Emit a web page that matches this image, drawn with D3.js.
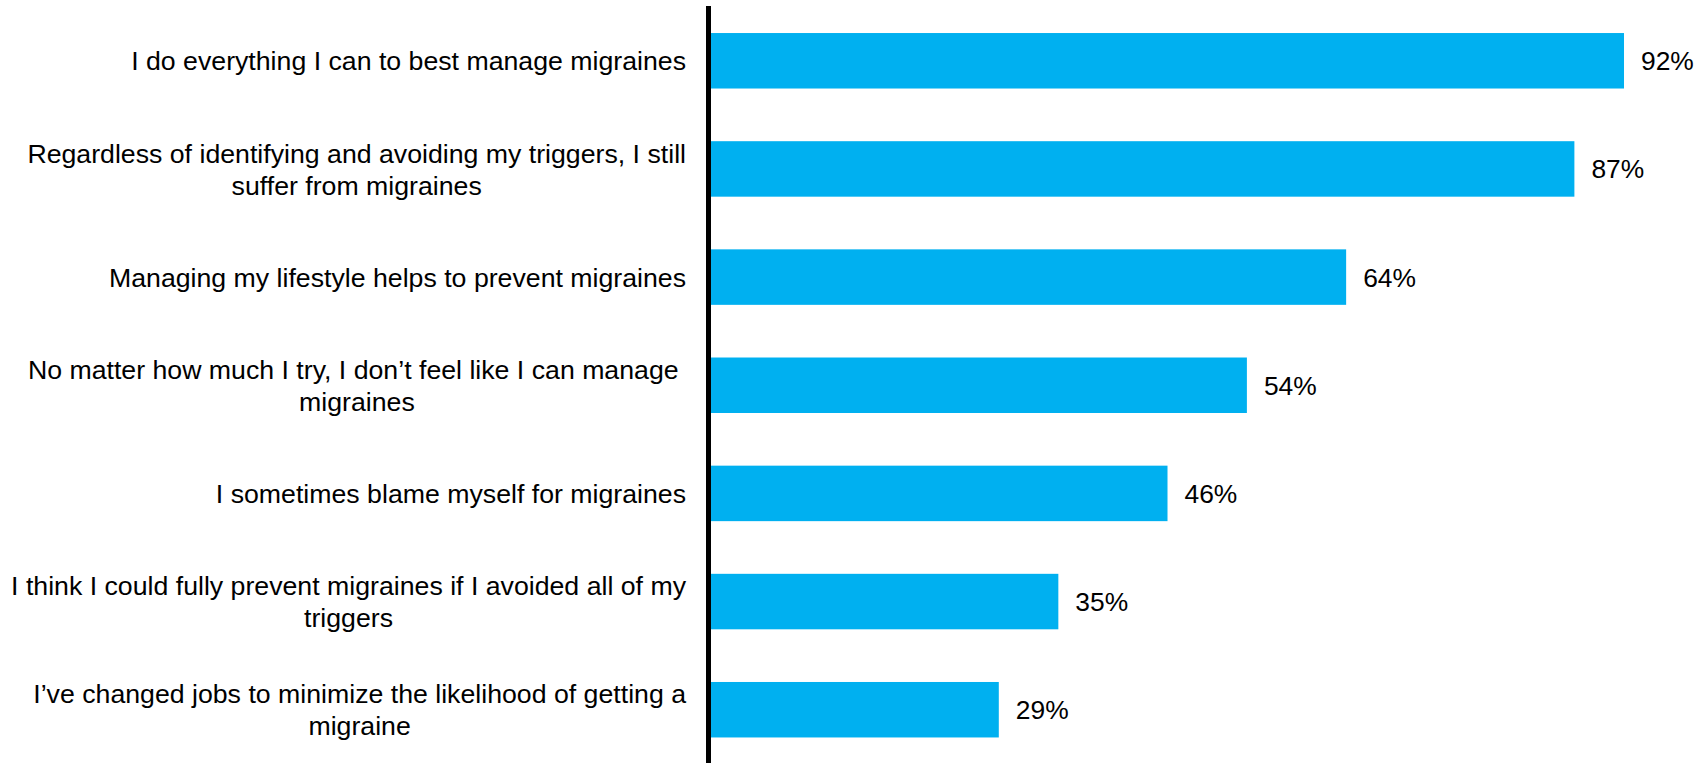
<!DOCTYPE html>
<html>
<head>
<meta charset="utf-8">
<script src="https://cdn.jsdelivr.net/npm/d3@7"></script>
<style>
  html, body { margin: 0; padding: 0; background: #fff; }
  svg { display: block; }
</style>
</head>
<body>
<svg id="chart" width="1707" height="763"></svg>
<script>
const categories = [
  "I do everything I can to best manage migraines",
  "Regardless of identifying and avoiding my triggers, I still\nsuffer from migraines",
  "Managing my lifestyle helps to prevent migraines",
  "No matter how much I try, I don\u2019t feel like I can manage \nmigraines",
  "I sometimes blame myself for migraines",
  "I think I could fully prevent migraines if I avoided all of my\ntriggers",
  "I\u2019ve changed jobs to minimize the likelihood of getting a\nmigraine"
];
const values = [92, 87, 64, 54, 46, 35, 29];
const valueLabels = ["92%", "87%", "64%", "54%", "46%", "35%", "29%"];

const svg = d3.select("#chart");
const font = "'Liberation Sans', Arial, sans-serif";
const labelSize = 26.7;
const valueSize = 26.4;

const x = d3.scaleLinear().domain([0, 100]).range([711, 711 + 992.4]);
const y = d3.scaleBand().domain(categories).range([6.7, 763.8])
  .paddingInner(0.487).paddingOuter(0.2435);

// bars
svg.selectAll("rect.bar").data(categories).enter().append("rect")
  .attr("class", "bar")
  .attr("x", x(0))
  .attr("y", d => y(d))
  .attr("width", (d, i) => x(values[i]) - x(0))
  .attr("height", y.bandwidth())
  .attr("fill", "#00B0F0");

// value labels
svg.selectAll("text.val").data(categories).enter().append("text")
  .attr("class", "val")
  .attr("x", (d, i) => x(values[i]) + 17)
  .attr("y", d => y(d) + y.bandwidth() / 2)
  .attr("dy", "0.36em")
  .attr("font-family", font)
  .attr("font-size", valueSize)
  .attr("fill", "#000")
  .text((d, i) => valueLabels[i]);

// category labels (centered lines, block right-aligned)
const rightEdge = 686;
const lineH = 32;
categories.forEach(cat => {
  const lines = cat.split("\n");
  const g = svg.append("g");
  const texts = lines.map((ln, j) => g.append("text")
    .attr("font-family", font)
    .attr("font-size", labelSize)
    .attr("fill", "#000")
    .attr("xml:space", "preserve")
    .attr("y", y(cat) + y.bandwidth() / 2 + (j - (lines.length - 1) / 2) * lineH)
    .attr("dy", "0.36em")
    .text(ln));
  const maxW = d3.max(texts, t => t.node().getComputedTextLength());
  texts.forEach(t => t.attr("text-anchor", "middle").attr("x", rightEdge - maxW / 2));
});

// vertical axis line
svg.append("line")
  .attr("x1", 708.5).attr("x2", 708.5)
  .attr("y1", 6).attr("y2", 763)
  .attr("stroke", "#000")
  .attr("stroke-width", 5);
</script>
</body>
</html>
